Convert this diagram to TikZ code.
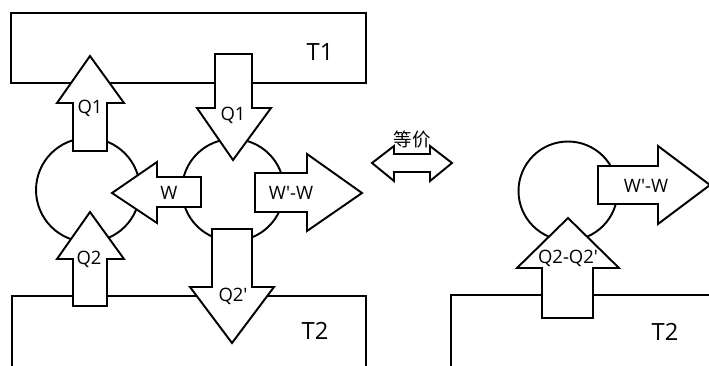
\documentclass[tikz,border=0pt]{standalone}
\usepackage{fontspec}
\setmainfont{Open Sans}
\newfontfamily\cjk{Noto Sans CJK SC}
\usepackage{tikz}
\usetikzlibrary{positioning}

\begin{document}
\begin{tikzpicture}[x=0.02cm,y=-0.02cm,
 reservoir/.style={draw,line width=1.1pt},
 engine/.style={draw,circle,line width=1.1pt,inner sep=0pt},
 blockArrow/.style={draw,fill=white,line width=1.1pt,line join=miter},
 arrowLabel/.style={inner sep=0pt,font=\fontsize{10.5}{12}\selectfont},
 tempLabel/.style={inner sep=0pt,font=\fontsize{13.5}{16}\selectfont}]
 \clip (0,0) rectangle (709,365);
 % reservoirs
 \draw[reservoir] (11,13) rectangle (366,83);
 \draw[reservoir] (12,380) -- (12,296) -- (366,296) -- (366,380);
 \draw[reservoir] (451,380) -- (451,295) -- (720,295);
 % engines
 \node[engine,minimum size=2.08cm] (engA) at (88,190) {};
 \node[engine,minimum size=2.04cm] (engB) at (233,190) {};
 \node[engine,minimum size=1.98cm] (engC) at (568,191) {};
 % block arrows, left system
 \draw[blockArrow] (73,151) -- (73,103) -- (57,103) -- (90,56) -- (124,103) -- (107,103) -- (107,151) -- cycle;
 \draw[blockArrow] (215,54) -- (252,54) -- (252,108) -- (271,108) -- (233,160) -- (197,108) -- (215,108) -- cycle;
 \draw[blockArrow] (201,177) -- (201,207) -- (157,207) -- (157,223) -- (112,193) -- (157,162) -- (157,177) -- cycle;
 \draw[blockArrow] (255,173) -- (307,173) -- (307,154) -- (362,193) -- (307,231) -- (307,212) -- (255,212) -- cycle;
 \draw[blockArrow] (73,306) -- (73,259) -- (57,259) -- (90,212) -- (124,259) -- (107,259) -- (107,306) -- cycle;
 \draw[blockArrow] (212,229) -- (252,229) -- (252,287) -- (274,287) -- (232,343) -- (190,287) -- (212,287) -- cycle;
 % equivalence
 \draw[blockArrow] (372,163) -- (394,146) -- (394,154) -- (430,154) -- (430,146) -- (452,163) -- (430,181) -- (430,172) -- (394,172) -- (394,181) -- cycle;
 % block arrows, right system
 \draw[blockArrow] (598,166) -- (658,166) -- (658,146) -- (710,185) -- (658,224) -- (658,204) -- (598,204) -- cycle;
 \draw[blockArrow] (542,318) -- (542,268) -- (517,268) -- (568,218) -- (619,268) -- (593,268) -- (593,318) -- cycle;
 % labels
 \node[tempLabel] (t1) at (320,52) {T1};
 \node[tempLabel] (t2L) at (315,331) {T2};
 \node[tempLabel] (t2R) at (665,332) {T2};
 \node[arrowLabel] (q1Out) at (90,108) {Q1};
 \node[arrowLabel] (q1In) at (233,115) {Q1};
 \node[arrowLabel] (wIn) at (169,193) {W};
 \node[arrowLabel] (wNetL) at (291,193) {W\textquotesingle-W};
 \node[arrowLabel] (q2Out) at (89,259) {Q2};
 \node[arrowLabel] (q2In) at (233,296) {Q2\textquotesingle};
 \node[arrowLabel] (equiv) at (412,140) {\cjk 等价};
 \node[arrowLabel] (wNetR) at (646,186) {W\textquotesingle-W};
 \node[arrowLabel] (q2Net) at (568,258) {Q2-Q2\textquotesingle};
\end{tikzpicture}
\end{document}
